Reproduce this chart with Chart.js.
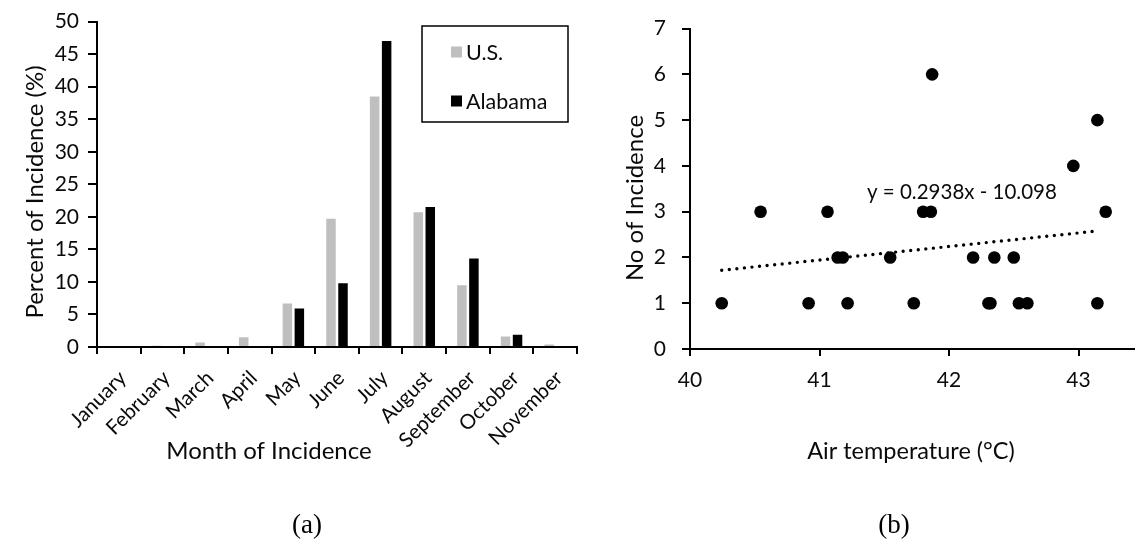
<!DOCTYPE html>
<html><head><meta charset="utf-8">
<script src="https://cdn.jsdelivr.net/npm/chart.js@4"></script>
<style>
html,body{margin:0;padding:0;width:1135px;height:544px;overflow:hidden;background:#fff;}
#wrapA{position:absolute;left:0;top:0;width:600px;height:544px;}
#wrapB{position:absolute;left:560px;top:0;width:700px;height:544px;}
.cap{position:absolute;font-family:"Liberation Serif","Times New Roman",serif;font-size:27px;color:#000;transform:translate(-50%,-50%);white-space:nowrap;}
</style></head><body>
<div id="wrapA"><canvas id="cA" width="600" height="544"></canvas></div>
<div id="wrapB"><canvas id="cB" width="700" height="544"></canvas></div>
<div class="cap" style="left:307px;top:524px">(a)</div>
<div class="cap" style="left:894px;top:524px">(b)</div>
<script>
// ---------- data: panel (a) ----------
const months = ['January','February','March','April','May','June','July','August','September','October','November'];
const usPercent = [0, 0.2, 0.7, 1.5, 6.7, 19.7, 38.5, 20.7, 9.5, 1.6, 0.4];
const alabamaPercent = [0, 0, 0, 0, 5.9, 9.8, 47.0, 21.5, 13.6, 1.9, 0];
const seriesNames = ['U.S.', 'Alabama'];
const percentAxis = [0, 50, 5];   // min, max, step

// ---------- data: panel (b) ----------
const airTemp   = [40.245, 40.545, 40.916, 41.062, 41.14, 41.18, 41.217, 41.546, 41.728, 41.80, 41.86, 41.87, 42.186, 42.305, 42.32, 42.35, 42.50, 42.54, 42.605, 42.96, 43.146, 43.146, 43.21];
const incidence = [1, 3, 1, 3, 2, 2, 1, 2, 1, 3, 3, 6, 2, 1, 1, 2, 2, 1, 1, 4, 5, 1, 3];
const trendX = [40.245, 43.15];
const trendY = [1.72, 2.58];
const equationText = 'y = 0.2938x - 10.098';
const tempAxis = [40, 44, 1];
const countAxis = [0, 7, 1];

// ---------- texts ----------
const yTitleA = 'Percent of Incidence (%)';
const xTitleA = 'Month of Incidence';
const yTitleB = 'No of Incidence';
const xTitleB = 'Air temperature (°C)';

const FONT = 'Lato, "Open Sans", sans-serif';
const TXT = '#0a0a0a';
const GRAY = '#BFBFBF';

const textPlugin = {
  id: 'texts',
  afterDraw(chart, args, opts) {
    const ctx = chart.ctx;
    (opts.items || []).forEach(it => {
      ctx.save();
      ctx.font = it.size + 'px ' + FONT;
      ctx.fillStyle = TXT;
      ctx.textAlign = 'center';
      ctx.textBaseline = 'middle';
      let x = it.x, y = it.y;
      if (it.dataX !== undefined) {
        x = chart.scales.x.getPixelForValue(it.dataX);
        y = chart.scales.y.getPixelForValue(it.dataY);
      }
      ctx.translate(x, y);
      if (it.rotate) ctx.rotate(it.rotate);
      ctx.fillText(it.text, 0, 0);
      ctx.restore();
    });
  }
};

const boxLegend = {
  id: 'boxLegend',
  afterDraw(chart, args, o) {
    if (!o.show) return;
    const ctx = chart.ctx;
    ctx.save();
    ctx.strokeStyle = '#000';
    ctx.lineWidth = 1.5;
    ctx.strokeRect(o.x, o.y, o.w, o.h);
    ctx.font = o.size + 'px ' + FONT;
    ctx.textBaseline = 'middle';
    ctx.textAlign = 'left';
    chart.data.datasets.forEach((ds, i) => {
      const cy = o.y + o.first + i * o.gap;
      ctx.fillStyle = ds.backgroundColor;
      ctx.fillRect(o.x + o.sx, cy - o.sq / 2, o.sq, o.sq);
      ctx.fillStyle = TXT;
      ctx.fillText(ds.label, o.x + o.sx + o.sq + 4, cy + 1);
    });
    ctx.restore();
  }
};

const gridCommon = { drawOnChartArea: false, color: '#000', lineWidth: 2 };

new Chart(document.getElementById('cA'), {
  type: 'bar',
  data: {
    labels: months,
    datasets: [
      { label: seriesNames[0], data: usPercent, backgroundColor: GRAY, categoryPercentage: 0.55, barPercentage: 0.79 },
      { label: seriesNames[1], data: alabamaPercent, backgroundColor: '#000', categoryPercentage: 0.55, barPercentage: 0.79 }
    ]
  },
  plugins: [textPlugin, boxLegend],
  options: {
    responsive: false, animation: false, devicePixelRatio: 1,
    layout: { padding: { left: 0, top: 20, right: 23, bottom: 47 } },
    plugins: {
      legend: { display: false }, tooltip: { enabled: false },
      texts: { items: [
        { text: yTitleA, x: 35, y: 192, size: 24, rotate: -Math.PI / 2 },
        { text: xTitleA, x: 269, y: 451, size: 24 }
      ] },
      boxLegend: { show: true, x: 422, y: 26, w: 146, h: 96, first: 26, gap: 49, sx: 29, sq: 11, size: 21.5 }
    },
    scales: {
      x: {
        offset: true,
        grid: Object.assign({ offset: true, tickLength: 7 }, gridCommon),
        border: { color: '#000', width: 2 },
        ticks: { autoSkip: false, minRotation: 45, maxRotation: 45, padding: 12, labelOffset: 4, color: TXT, font: { family: FONT, size: 20.5 } },
        afterFit(s) { s.height = 150; }
      },
      y: {
        min: percentAxis[0], max: percentAxis[1],
        grid: Object.assign({ tickLength: 9 }, gridCommon),
        border: { color: '#000', width: 2 },
        ticks: { stepSize: percentAxis[2], padding: 9, color: TXT, font: { family: FONT, size: 21 } },
        afterFit(s) { s.width = 97; }
      }
    }
  }
});

new Chart(document.getElementById('cB'), {
  type: 'scatter',
  data: {
    datasets: [
      { data: airTemp.map((x, i) => ({ x: x, y: incidence[i] })), backgroundColor: '#000', borderWidth: 0, pointRadius: 6.3 },
      { data: trendX.map((x, i) => ({ x: x, y: trendY[i] })), showLine: true, pointRadius: 0, borderColor: '#000', borderWidth: 3.4, borderDash: [0, 7.6], borderCapStyle: 'round' }
    ]
  },
  plugins: [textPlugin],
  options: {
    responsive: false, animation: false, devicePixelRatio: 1,
    layout: { padding: { left: 0, top: 22, right: 52, bottom: 135 } },
    plugins: {
      legend: { display: false }, tooltip: { enabled: false },
      texts: { items: [
        { text: yTitleB, x: 75, y: 198, size: 24, rotate: -Math.PI / 2 },
        { text: xTitleB, x: 351, y: 451, size: 23.5 },
        { text: equationText, dataX: 42.10, dataY: 3.43, size: 20.5 }
      ] }
    },
    scales: {
      x: {
        type: 'linear', min: tempAxis[0], max: tempAxis[1],
        grid: Object.assign({ tickLength: 7 }, gridCommon),
        border: { color: '#000', width: 2 },
        ticks: { stepSize: tempAxis[2], padding: 12, color: TXT, font: { family: FONT, size: 21 } },
        afterFit(s) { s.height = 60; }
      },
      y: {
        min: countAxis[0], max: countAxis[1],
        grid: Object.assign({ tickLength: 8 }, gridCommon),
        border: { color: '#000', width: 2 },
        ticks: { stepSize: countAxis[2], padding: 16, color: TXT, font: { family: FONT, size: 21 } },
        afterFit(s) { s.width = 130; }
      }
    }
  }
});
</script>
</body></html>
